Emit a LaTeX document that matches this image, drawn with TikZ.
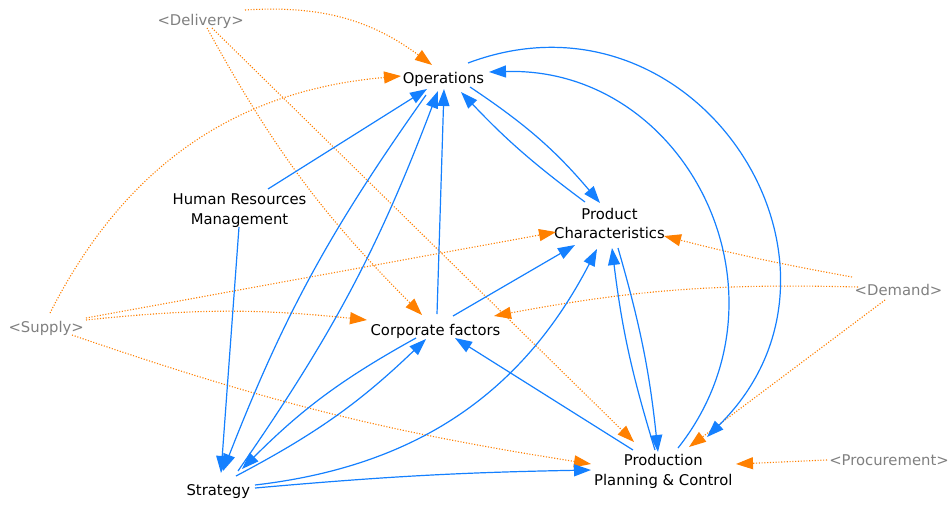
\documentclass[tikz,border=0pt]{standalone}
\usepackage{fontspec}
\setmainfont{DejaVu Sans}
\usetikzlibrary{arrows.meta}
\definecolor{lblue}{RGB}{20,128,255}
\definecolor{lorange}{RGB}{255,128,0}
\definecolor{vgray}{RGB}{128,128,128}
\def\ndelx{200.7}\def\ndely{21.4}
\def\nopsx{443.5}\def\nopsy{79.4}
\def\nhrmx{239.5}\def\nhrmy{210.7}
\def\npcx{609.5}\def\npcy{223.3}
\def\nsupx{46.2}\def\nsupy{329.1}
\def\ncfx{435.5}\def\ncfy{331.4}
\def\ndemx{898.5}\def\ndemy{292.1}
\def\nstrx{218.3}\def\nstry{491.4}
\def\nppcx{663.3}\def\nppcy{471.6}
\def\nprocx{889}\def\nprocy{462.1}
% \lnk{style}{from}{x}{y}{to}{x}{y}{connector}: end points given in picture pixels, anchored on the named nodes
\newcommand\lnk[8]{\draw[#1] ([shift={({#3-\csname n#2x\endcsname},{\csname n#2y\endcsname-#4})}]#2.center) #8 ([shift={({#6-\csname n#5x\endcsname},{\csname n#5y\endcsname-#7})}]#5.center);}
\begin{document}
\begin{tikzpicture}[x=1pt,y=1pt,
  var/.style={inner sep=1pt, font=\fontsize{14.8}{19.5}\selectfont, text height=11.1pt, text depth=3.7pt},
  mvar/.style={inner sep=1pt, font=\fontsize{14.8}{19.5}\selectfont, align=center},
  shadow/.style={var, text=vgray},
  link/.style={draw=lblue, line width=1.2pt, -{Triangle[length=17pt,width=12pt]}},
  info/.style={draw=lorange, line width=1.1pt, dash pattern=on 1.1pt off 1.7pt, -{Triangle[length=17pt,width=12pt]}}]
\useasboundingbox[fill=white] (0,0) rectangle (952,-504);
\node[shadow] (del) at ({\ndelx},{-\ndely}) {<Delivery>};
\node[var] (ops) at ({\nopsx},{-\nopsy}) {Operations};
\node[mvar] (hrm) at ({\nhrmx},{-\nhrmy}) {Human Resources\\Management};
\node[mvar] (pc) at ({\npcx},{-\npcy}) {Product\\Characteristics};
\node[shadow] (sup) at ({\nsupx},{-\nsupy}) {<Supply>};
\node[var] (cf) at ({\ncfx},{-\ncfy}) {Corporate factors};
\node[shadow] (dem) at ({\ndemx},{-\ndemy}) {<Demand>};
\node[var] (str) at ({\nstrx},{-\nstry}) {Strategy};
\node[mvar] (ppc) at ({\nppcx},{-\nppcy}) {Production\\Planning \& Control};
\node[shadow] (proc) at ({\nprocx},{-\nprocy}) {<Procurement>};
% information links (orange, dotted)
\lnk{info}{del}{245}{10}{ops}{432}{65}{to[bend left=20]}
\lnk{info}{del}{207}{28}{cf}{422}{315}{to[bend right=8]}
\lnk{info}{del}{212}{28}{ppc}{634}{442}{--}
\lnk{info}{sup}{50}{313}{ops}{401}{76}{to[bend left=29]}
\lnk{info}{sup}{86}{318}{pc}{556}{232}{--}
\lnk{info}{sup}{86}{320}{cf}{367}{320}{to[bend left=6]}
\lnk{info}{sup}{72}{335}{ppc}{591}{464}{to[bend right=5]}
\lnk{info}{dem}{852}{277}{pc}{664}{236}{to[bend left=2]}
\lnk{info}{dem}{858}{287}{cf}{494}{316}{to[bend right=6]}
\lnk{info}{dem}{885}{300}{ppc}{689}{447}{--}
\lnk{info}{proc}{827}{460}{ppc}{736}{464}{--}
% causal links (blue)
\lnk{link}{hrm}{268}{189}{ops}{427}{89}{--}
\lnk{link}{hrm}{239}{227}{str}{221}{473}{--}
\lnk{link}{str}{238}{471}{ops}{438}{91}{to[bend right=7]}
\lnk{link}{ops}{426}{95}{str}{223}{471}{to[bend right=7]}
\lnk{link}{cf}{437}{314}{ops}{444}{89}{--}
\lnk{link}{ops}{470}{87}{pc}{600}{203}{to[bend left=8]}
\lnk{link}{pc}{585}{202}{ops}{461}{92}{to[bend left=5]}
\lnk{link}{cf}{453}{316}{pc}{575}{245}{--}
\lnk{link}{str}{236}{476}{cf}{426}{339}{to[bend right=8]}
\lnk{link}{cf}{416}{338}{str}{242}{469}{to[bend right=8]}
\lnk{link}{str}{255}{485}{pc}{597}{249}{to[bend right=28]}
\lnk{link}{str}{255}{488}{ppc}{591}{470}{to[bend left=2]}
\lnk{link}{ppc}{633}{450}{cf}{455}{338}{--}
\lnk{link}{pc}{618}{248}{ppc}{658}{452}{to[bend left=5]}
\lnk{link}{ppc}{655}{450}{pc}{612}{248}{to[bend left=5]}
\lnk{link}{ppc}{678}{448}{ops}{489}{72}{to[bend right=65,looseness=1.2]}
\lnk{link}{ops}{468}{63}{ppc}{707}{437}{to[bend left=78,looseness=1.41]}
\end{tikzpicture}
\end{document}
